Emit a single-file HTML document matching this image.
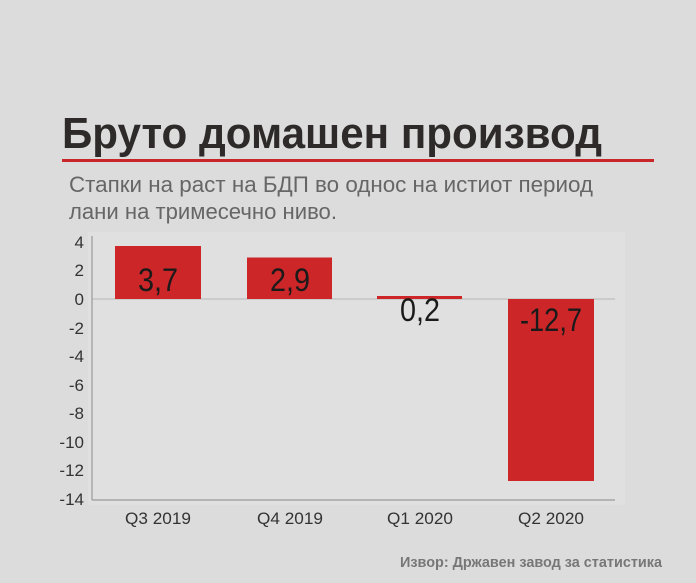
<!DOCTYPE html>
<html><head><meta charset="utf-8"><style>
html,body{margin:0;padding:0;background:#dcdcdc;}
svg{display:block;font-family:"Liberation Sans",sans-serif;}
</style></head><body>
<svg width="696" height="583" viewBox="0 0 696 583">
<rect width="696" height="583" fill="#dcdcdc"/>
<text x="62" y="148" font-size="44" font-weight="bold" fill="#2e2a2a" textLength="540" lengthAdjust="spacingAndGlyphs">Бруто домашен производ</text>
<rect x="62" y="159" width="592" height="3" fill="#c9262a"/>
<text x="69" y="192" font-size="22" fill="#666" textLength="524" lengthAdjust="spacingAndGlyphs">Стапки на раст на БДП во однос на истиот период</text>
<text x="69" y="219" font-size="22" fill="#666" textLength="268" lengthAdjust="spacingAndGlyphs">лани на тримесечно ниво.</text>
<rect x="88" y="232" width="537" height="273" fill="#e0e0e0"/>
<line x1="92" y1="299" x2="615" y2="299" stroke="#c4c4c4" stroke-width="1.5"/>
<line x1="92" y1="236" x2="92" y2="500" stroke="#999" stroke-width="1.2"/>
<line x1="92" y1="500" x2="615" y2="500" stroke="#999" stroke-width="1.2"/>
<g font-size="17" fill="#333" text-anchor="end">
<text x="84" y="248">4</text><text x="84" y="276">2</text><text x="84" y="305">0</text>
<text x="84" y="334">-2</text><text x="84" y="362">-4</text><text x="84" y="391">-6</text>
<text x="84" y="419">-8</text><text x="84" y="448">-10</text><text x="84" y="476">-12</text>
<text x="84" y="505">-14</text>
</g>
<g fill="#cc2628">
<rect x="115" y="246" width="86" height="53"/>
<rect x="247" y="257.5" width="85" height="41.5"/>
<rect x="377" y="296" width="85" height="3"/>
<rect x="508" y="299" width="86" height="182"/>
</g>
<g font-size="32" fill="#1a1a1a" text-anchor="middle">
<text x="158" y="291" textLength="40" lengthAdjust="spacingAndGlyphs">3,7</text>
<text x="290" y="291" textLength="40" lengthAdjust="spacingAndGlyphs">2,9</text>
<text x="420" y="321" textLength="40" lengthAdjust="spacingAndGlyphs">0,2</text>
<text x="551" y="331" textLength="62" lengthAdjust="spacingAndGlyphs">-12,7</text>
</g>
<g font-size="17" fill="#333" text-anchor="middle">
<text x="158" y="524" textLength="66" lengthAdjust="spacingAndGlyphs">Q3 2019</text>
<text x="290" y="524" textLength="66" lengthAdjust="spacingAndGlyphs">Q4 2019</text>
<text x="420" y="524" textLength="66" lengthAdjust="spacingAndGlyphs">Q1 2020</text>
<text x="551" y="524" textLength="66" lengthAdjust="spacingAndGlyphs">Q2 2020</text>
</g>
<text x="662" y="567" font-size="15" font-weight="bold" fill="#777" text-anchor="end" textLength="262" lengthAdjust="spacingAndGlyphs">Извор: Државен завод за статистика</text>
</svg>
</body></html>
